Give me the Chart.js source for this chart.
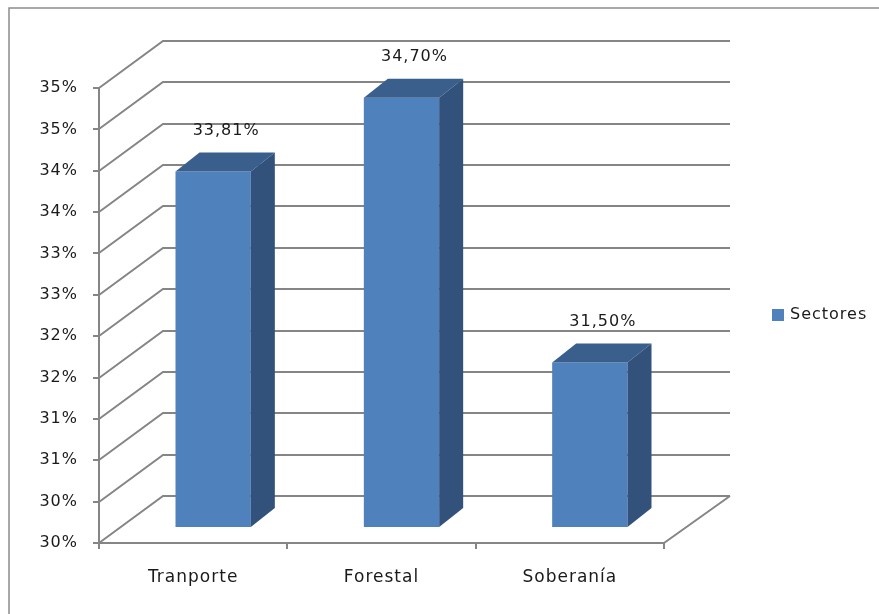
<!DOCTYPE html>
<html>
<head>
<meta charset="utf-8">
<script src="https://cdn.jsdelivr.net/npm/chart.js@4.4.1/dist/chart.umd.min.js"></script>
<style>
  html, body { margin: 0; padding: 0; background: #ffffff; }
  #wrap { width: 879px; height: 614px; position: relative; }
</style>
</head>
<body>
<div id="wrap"><canvas id="c" width="879" height="614"></canvas></div>
<script>
const categories = ['Tranporte', 'Forestal', 'Soberanía'];
const sectores = [33.81, 34.70, 31.50];
const seriesName = 'Sectores';
const yTickLabels = ['30%', '30%', '31%', '31%', '32%', '32%', '33%', '33%', '34%', '34%', '35%', '35%'];

const FONT = '"DejaVu Sans", sans-serif';
const TEXT = '#1a1a1a';
const GRID = '#858585';
const FRONT = '#4F81BD';
const TOP = '#3B5F8D';
const SIDE = '#32517B';
const WALL = { dx: 64, dy: -47 };      // full depth of the 3D box
const PLANE = { dx: 20, dy: -15 };     // bar front plane offset
const BDEPTH = { dx: 24, dy: -19 };    // bar depth

const fmt = v => v.toFixed(2).replace('.', ',') + '%';

const box3d = {
  id: 'box3d',
  beforeDraw(chart) {
    const ctx = chart.ctx;
    ctx.letterSpacing = '1px';
    ctx.save();
    ctx.strokeStyle = '#8c8c8c';
    ctx.lineWidth = 1.5;
    ctx.beginPath();
    ctx.moveTo(9, chart.height + 2);
    ctx.lineTo(9, 8);
    ctx.lineTo(chart.width + 2, 8);
    ctx.stroke();
    ctx.restore();
  },
  beforeDatasetsDraw(chart) {
    const ctx = chart.ctx;
    const a = chart.chartArea;
    const y = chart.scales.y;
    ctx.save();
    ctx.strokeStyle = GRID;
    ctx.lineWidth = 2;
    y.ticks.forEach(t => {
      const py = Math.round(y.getPixelForValue(t.value));
      ctx.beginPath();
      ctx.moveTo(a.left, py);
      ctx.lineTo(a.left + WALL.dx, py + WALL.dy);
      ctx.lineTo(a.right + WALL.dx + 2, py + WALL.dy);
      ctx.stroke();
    });
    // floor right edge
    ctx.beginPath();
    ctx.moveTo(a.right, a.bottom);
    ctx.lineTo(a.right + WALL.dx + 2, a.bottom + WALL.dy);
    ctx.stroke();
    ctx.restore();
    ctx.save();
    ctx.translate(PLANE.dx, PLANE.dy);
  },
  afterDatasetsDraw(chart) {
    const ctx = chart.ctx;
    const meta = chart.getDatasetMeta(0);
    meta.data.forEach((bar, i) => {
      const p = bar.getProps(['x', 'y', 'width', 'base'], true);
      const l = p.x - p.width / 2, r = p.x + p.width / 2;
      ctx.fillStyle = TOP;
      ctx.beginPath();
      ctx.moveTo(l, p.y);
      ctx.lineTo(l + BDEPTH.dx, p.y + BDEPTH.dy);
      ctx.lineTo(r + BDEPTH.dx, p.y + BDEPTH.dy);
      ctx.lineTo(r, p.y);
      ctx.closePath();
      ctx.fill();
      ctx.fillStyle = SIDE;
      ctx.beginPath();
      ctx.moveTo(r, p.y);
      ctx.lineTo(r + BDEPTH.dx, p.y + BDEPTH.dy);
      ctx.lineTo(r + BDEPTH.dx, p.base + BDEPTH.dy);
      ctx.lineTo(r, p.base);
      ctx.closePath();
      ctx.fill();
      ctx.fillStyle = TEXT;
      ctx.font = '16px ' + FONT;
      ctx.textAlign = 'center';
      ctx.textBaseline = 'middle';
      ctx.fillText(fmt(sectores[i]), p.x + BDEPTH.dx / 2 + 1, p.y + BDEPTH.dy - 22);
    });
    ctx.restore();
  },
  afterDraw(chart) {
    const ctx = chart.ctx;
    ctx.save();
    ctx.fillStyle = FRONT;
    ctx.fillRect(772, 309, 12, 12);
    ctx.fillStyle = TEXT;
    ctx.font = '16px ' + FONT;
    ctx.textAlign = 'left';
    ctx.textBaseline = 'middle';
    ctx.fillText(seriesName, 790, 315);
    ctx.restore();
  }
};

new Chart(document.getElementById('c'), {
  type: 'bar',
  data: {
    labels: categories,
    datasets: [{
      label: seriesName,
      data: sectores,
      base: 29.5,
      backgroundColor: FRONT,
      borderWidth: 0,
      barPercentage: 0.4,
      categoryPercentage: 1.0
    }]
  },
  options: {
    responsive: false,
    animation: false,
    events: [],
    layout: { padding: { left: 0, right: 215, top: 88, bottom: 0 } },
    plugins: { legend: { display: false }, tooltip: { enabled: false } },
    scales: {
      x: {
        offset: true,
        grid: { offset: true, drawOnChartArea: false, drawTicks: true, tickLength: 6, color: GRID, lineWidth: 2 },
        border: { display: true, color: GRID, width: 2 },
        ticks: { color: TEXT, font: { family: FONT, size: 17 }, padding: 18 },
        afterFit(s) { s.height = 71; }
      },
      y: {
        min: 29.5,
        max: 35,
        grid: { drawOnChartArea: false, drawTicks: true, tickLength: 6, color: GRID, lineWidth: 2 },
        border: { display: true, color: GRID, width: 2 },
        ticks: {
          stepSize: 0.5,
          color: TEXT,
          font: { family: FONT, size: 16 },
          padding: 15,
          callback: (v, i) => yTickLabels[i]
        },
        afterFit(s) { s.width = 99; }
      }
    }
  },
  plugins: [box3d]
});
</script>
</body>
</html>
